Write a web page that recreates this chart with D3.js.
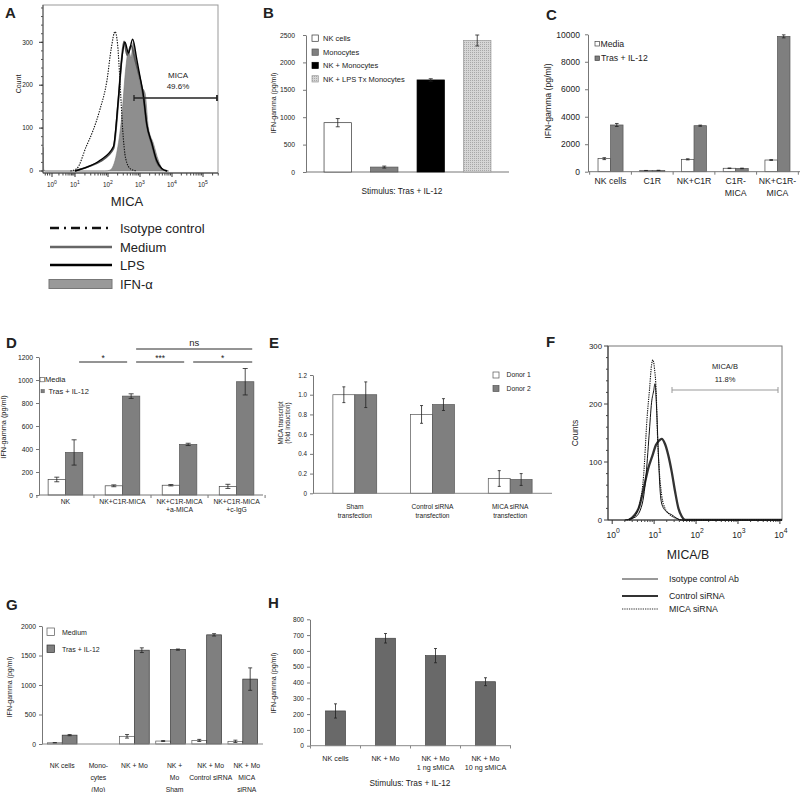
<!DOCTYPE html>
<html><head><meta charset="utf-8">
<script src="https://cdn.jsdelivr.net/npm/d3@7"></script>
<style>
body{margin:0;background:#fff}
svg{display:block}
text{font-family:Arial,"Liberation Sans",sans-serif;fill:#222}
</style>
</head><body>
<svg id="c" width="800" height="792"></svg>
<script>
// ================= DATA =================
// Panel A: flow histogram (log10 decade, count)
const aDecades = [0, 1, 2, 3, 4, 5];
const aYTicks = [0, 100, 200, 300];
const aIFN = [[-0.4,0],[-0.39,55],[-0.37,4],[-0.3,0],[1.9,0],[2.06,2],[2.27,41],[2.43,127],[2.56,243],[2.64,282],[2.72,265],[2.79,300],[2.9,250],[3.0,204],[3.16,181],[3.26,103],[3.42,64],[3.57,26],[3.73,2],[3.9,0]];
const aIsotype = [[0.8,0],[1.06,6],[1.34,57],[1.55,95],[1.75,142],[1.97,212],[2.1,285],[2.22,325],[2.3,295],[2.38,200],[2.46,95],[2.55,30],[2.7,5],[2.9,0]];
const aMedium = [[1.0,0],[1.4,10],[1.76,22],[2.17,52],[2.32,160],[2.42,255],[2.5,302],[2.6,270],[2.72,292],[2.86,255],[3.0,215],[3.1,175],[3.21,108],[3.37,62],[3.52,22],[3.68,5],[3.85,0]];
const aLPS = [[1.0,0],[1.4,10],[1.76,25],[2.17,57],[2.32,165],[2.43,260],[2.53,300],[2.64,275],[2.77,307],[2.9,260],[3.0,220],[3.1,180],[3.21,110],[3.37,65],[3.52,25],[3.68,6],[3.85,0]];
const aLegend = ["Isotype control", "Medium", "LPS", "IFN-\u03b1"];

// Panel B
const bCategories = ["NK cells", "Monocytes", "NK +  Monocytes", "NK + LPS Tx Monocytes"];
const bValues = [900, 90, 1680, 2400];
const bErrors = [75, 18, 22, 100];
const bYTicks = [0, 500, 1000, 1500, 2000, 2500];

// Panel C
const cCategories = [["NK cells"], ["C1R"], ["NK+C1R"], ["C1R-", "MICA"], ["NK+C1R-", "MICA"]];
const cSeries = ["Media", "Tras + IL-12"];
const cMedia = [950, 80, 900, 250, 850];
const cMediaErr = [70, 10, 40, 20, 30];
const cTras = [3400, 90, 3350, 240, 9850];
const cTrasErr = [110, 15, 40, 20, 110];
const cYTicks = [0, 2000, 4000, 6000, 8000, 10000];

// Panel D
const dCategories = [["NK"], ["NK+C1R-MICA"], ["NK+C1R-MICA", "+a-MICA"], ["NK+C1R-MICA", "+c-IgG"]];
const dSeries = ["Media", "Tras + IL-12"];
const dMedia = [135, 80, 85, 75];
const dMediaErr = [20, 8, 6, 18];
const dTras = [370, 860, 440, 985];
const dTrasErr = [110, 20, 10, 115];
const dYTicks = [0, 200, 400, 600, 800, 1000, 1200];
const dSig = [
  {from: 0, to: 1, label: "*", level: 0},
  {from: 1, to: 2, label: "***", level: 0},
  {from: 2, to: 3, label: "*", level: 0},
  {from: 1, to: 3, label: "ns", level: 1}
];

// Panel E
const eCategories = [["Sham", "transfection"], ["Control siRNA", "transfection"], ["MICA siRNA", "transfection"]];
const eSeries = ["Donor 1", "Donor 2"];
const eDonor1 = [1.0, 0.8, 0.15];
const eDonor1Err = [0.08, 0.09, 0.08];
const eDonor2 = [1.0, 0.9, 0.14];
const eDonor2Err = [0.13, 0.06, 0.06];
const eYTicks = [0, 0.2, 0.4, 0.6, 0.8, 1.0, 1.2];

// Panel F: flow histogram (log10 decade, count)
const fDecades = [0, 1, 2, 3, 4];
const fYTicks = [0, 100, 200, 300];
const fIsotype = [[0.3,0],[0.55,5],[0.71,26],[0.8,71],[0.88,146],[0.94,203],[0.99,223],[1.02,235],[1.06,191],[1.1,117],[1.14,54],[1.19,26],[1.3,14],[1.42,9],[1.54,3],[1.66,0],[4.05,0]];
const fControl = [[0.4,0],[0.63,20],[0.75,54],[0.86,89],[0.96,111],[1.04,129],[1.12,137],[1.18,140],[1.26,131],[1.34,111],[1.42,83],[1.5,49],[1.58,20],[1.66,6],[1.74,0],[4.05,0]];
const fMICA = [[0.35,0],[0.51,5],[0.67,32],[0.75,77],[0.83,174],[0.89,225],[0.94,268],[0.97,276],[1.01,260],[1.05,220],[1.08,146],[1.12,89],[1.18,43],[1.26,20],[1.38,9],[1.54,2],[1.7,0],[4.05,0]];
const fLegend = ["Isotype control Ab", "Control siRNA", "MICA siRNA"];

// Panel G
const gCategories = [["NK cells"], ["Mono-", "cytes", "(Mo)"], ["NK + Mo"], ["NK +", "Mo", "Sham"], ["NK + Mo", "Control siRNA"], ["NK + Mo", "MICA", "siRNA"]];
const gSeries = ["Medium", "Tras + IL-12"];
const gMedium = [20, 0, 130, 50, 60, 45];
const gMediumErr = [3, 0, 30, 8, 18, 20];
const gTras = [150, 0, 1590, 1600, 1850, 1100];
const gTrasErr = [10, 0, 40, 10, 20, 190];
const gYTicks = [0, 500, 1000, 1500, 2000];

// Panel H
const hCategories = [["NK cells"], ["NK + Mo"], ["NK + Mo", "1 ng sMICA"], ["NK + Mo", "10 ng sMICA"]];
const hValues = [220, 680, 570, 405];
const hErrors = [45, 30, 45, 25];
const hYTicks = [0, 100, 200, 300, 400, 500, 600, 700, 800];

// ================= DRAWING =================
const FONT = 'Arial, "Liberation Sans", sans-serif';
const svg = d3.select("#c");
const GRAY = "#7f7f7f";

const defs = svg.append("defs");
const pat = defs.append("pattern").attr("id", "dots").attr("width", 2).attr("height", 2).attr("patternUnits", "userSpaceOnUse");
pat.append("rect").attr("width", 2).attr("height", 2).attr("fill", "#d6d6d6");
pat.append("rect").attr("width", 1).attr("height", 1).attr("fill", "#a8a8a8");

function panelLabel(x, y, t) {
  svg.append("text").attr("x", x).attr("y", y).attr("font-size", 15).attr("font-weight", "bold").attr("fill", "#000").text(t);
}
function txt(x, y, t, size, anchor = "start", color = "#222") {
  return svg.append("text").attr("x", x).attr("y", y).attr("font-size", size).attr("text-anchor", anchor).attr("fill", color).text(t);
}
function vtxt(x, y, t, size) {
  return svg.append("text").attr("transform", `translate(${x},${y}) rotate(-90)`).attr("font-size", size).attr("text-anchor", "middle").attr("fill", "#222").text(t);
}
function yAxis(scale, x, ticks, fmt, size, offset, color = "#777") {
  const g = svg.append("g").attr("transform", `translate(${x},0)`)
    .call(d3.axisLeft(scale).tickValues(ticks).tickSize(3).tickSizeOuter(0).tickPadding(offset - 3).tickFormat(fmt));
  g.select(".domain").attr("stroke", color);
  g.selectAll(".tick line").attr("stroke", color);
  g.selectAll("text").attr("font-size", size).attr("font-family", FONT).attr("fill", "#333");
  return g;
}
function catAxis(band, y, x0, x1, labels, size, lh, firstDy) {
  svg.append("line").attr("x1", x0).attr("x2", x1).attr("y1", y).attr("y2", y).attr("stroke", "#777");
  const step = band.step();
  const centers = band.domain().map(i => band(i) + band.bandwidth() / 2);
  const bounds = centers.map(c => c - step / 2).concat([centers[centers.length - 1] + step / 2]);
  svg.append("g").selectAll("line").data(bounds).join("line")
    .attr("x1", d => d).attr("x2", d => d).attr("y1", y).attr("y2", y + 3).attr("stroke", "#777");
  const g = svg.append("g").selectAll("text").data(labels).join("text")
    .attr("x", (d, i) => centers[i]).attr("y", y + firstDy)
    .attr("font-size", size).attr("text-anchor", "middle").attr("fill", "#222");
  g.each(function(d, i) {
    d3.select(this).selectAll("tspan").data(d).join("tspan")
      .attr("x", centers[i]).attr("dy", (t, j) => j === 0 ? 0 : lh).text(t => t);
  });
}
function bars(band, inner, si, values, errors, yS, fill, stroke, cap) {
  const g = svg.append("g");
  const data = values.map((v, i) => ({v, e: errors ? errors[i] : 0, i})).filter(d => d.v > 0);
  g.selectAll("rect").data(data).join("rect")
    .attr("x", d => band(d.i) + (inner ? inner(si) : 0))
    .attr("y", d => yS(d.v))
    .attr("width", inner ? inner.bandwidth() : band.bandwidth())
    .attr("height", d => yS(0) - yS(d.v))
    .attr("fill", fill).attr("stroke", stroke).attr("stroke-width", 0.7);
  const w = inner ? inner.bandwidth() : band.bandwidth();
  const eb = g.selectAll("g.err").data(data.filter(d => d.e > 0)).join("g").attr("class", "err");
  const cx = d => band(d.i) + (inner ? inner(si) : 0) + w / 2;
  eb.append("line").attr("x1", cx).attr("x2", cx).attr("y1", d => yS(d.v - d.e)).attr("y2", d => yS(d.v + d.e)).attr("stroke", "#222").attr("stroke-width", 0.8);
  eb.append("line").attr("x1", d => cx(d) - cap).attr("x2", d => cx(d) + cap).attr("y1", d => yS(d.v + d.e)).attr("y2", d => yS(d.v + d.e)).attr("stroke", "#222").attr("stroke-width", 0.8);
  eb.append("line").attr("x1", d => cx(d) - cap).attr("x2", d => cx(d) + cap).attr("y1", d => yS(d.v - d.e)).attr("y2", d => yS(d.v - d.e)).attr("stroke", "#222").attr("stroke-width", 0.8);
}
function sup(x, y, base, exp, size) {
  const t = svg.append("text").attr("x", x).attr("y", y).attr("font-size", size).attr("text-anchor", "middle").attr("fill", "#333");
  t.append("tspan").text(base);
  t.append("tspan").attr("dy", -size * 0.55).attr("font-size", size * 0.8).text(exp);
}

// ---------- Panel A ----------
panelLabel(5, 18, "A");
const xA = d3.scaleLinear().domain([-0.4, 0, 1, 2, 3, 4, 5, 5.47]).range([43, 52, 75, 108, 140, 172, 203, 218]);
const yA = d3.scaleLinear().domain([0, 300]).range([171, 42.3]);
defs.append("clipPath").attr("id", "clipA").append("rect").attr("x", 43).attr("y", 5).attr("width", 175).attr("height", 168);
svg.append("rect").attr("x", 43).attr("y", 5).attr("width", 175).attr("height", 168).attr("fill", "none").attr("stroke", "#999");
const gA = svg.append("g").attr("clip-path", "url(#clipA)");
gA.append("path").datum(aIFN).attr("d", d3.area().x(d => xA(d[0])).y0(yA(0)).y1(d => yA(d[1])).curve(d3.curveMonotoneX)).attr("fill", "#8e8e8e").attr("stroke", "#777").attr("stroke-width", 0.6);
const lineA = d3.line().x(d => xA(d[0])).y(d => yA(d[1])).curve(d3.curveMonotoneX);
gA.append("path").datum(aIsotype).attr("d", lineA).attr("fill", "none").attr("stroke", "#111").attr("stroke-width", 1.1).attr("stroke-dasharray", "1.4,1.2");
gA.append("path").datum(aMedium).attr("d", lineA).attr("fill", "none").attr("stroke", "#555").attr("stroke-width", 1.8);
gA.append("path").datum(aLPS).attr("d", lineA).attr("fill", "none").attr("stroke", "#000").attr("stroke-width", 1.4);
// A y axis
const yAxA = svg.append("g");
yAxA.append("line").attr("x1", 43).attr("x2", 43).attr("y1", 5).attr("y2", 173).attr("stroke", "#555");
yAxA.selectAll("line.mn").data(d3.range(0, 381, 20)).join("line").attr("class", "mn")
  .attr("x1", 41).attr("x2", 43).attr("y1", d => yA(d)).attr("y2", d => yA(d)).attr("stroke", "#555");
yAxA.selectAll("line.mj").data(aYTicks).join("line").attr("class", "mj")
  .attr("x1", 39).attr("x2", 43).attr("y1", d => yA(d)).attr("y2", d => yA(d)).attr("stroke", "#333");
yAxA.selectAll("text").data(aYTicks).join("text").attr("x", 33).attr("y", d => yA(d) + 2.2).attr("text-anchor", "end").attr("font-size", 6.5).attr("fill", "#333").text(d => d);
// A x axis
svg.append("line").attr("x1", 43).attr("x2", 218).attr("y1", 173).attr("y2", 173).attr("stroke", "#333");
const aMinor = [];
aDecades.slice(0, 5).forEach(d => d3.range(2, 10).forEach(k => aMinor.push(d + Math.log10(k))));
[-0.1, -0.2, -0.3].forEach(v => aMinor.push(v));
d3.range(2, 4).forEach(k => aMinor.push(5 + Math.log10(k)));
svg.append("g").selectAll("line").data(aMinor).join("line").attr("x1", d => xA(d)).attr("x2", d => xA(d)).attr("y1", 173).attr("y2", 175.5).attr("stroke", "#444");
svg.append("g").selectAll("line").data(aDecades).join("line").attr("x1", d => xA(d)).attr("x2", d => xA(d)).attr("y1", 173).attr("y2", 177).attr("stroke", "#333");
aDecades.forEach(d => sup(xA(d), 187, "10", String(d), 6.3));
txt(127, 206, "MICA", 13, "middle", "#111");
vtxt(21, 84, "Count", 7);
// gate
svg.append("line").attr("x1", 134).attr("x2", 217).attr("y1", 98).attr("y2", 98).attr("stroke", "#222").attr("stroke-width", 1.3);
svg.append("line").attr("x1", 134).attr("x2", 134).attr("y1", 95).attr("y2", 101).attr("stroke", "#222").attr("stroke-width", 1.3);
svg.append("line").attr("x1", 217).attr("x2", 217).attr("y1", 95).attr("y2", 101).attr("stroke", "#222").attr("stroke-width", 1.8);
txt(178, 78, "MICA", 8, "middle", "#333");
txt(178, 89, "49.6%", 8, "middle", "#333");
// A legend
const aLegY = [228, 247, 265, 284];
svg.append("line").attr("x1", 50).attr("x2", 108).attr("y1", aLegY[0]).attr("y2", aLegY[0]).attr("stroke", "#111").attr("stroke-width", 2.5).attr("stroke-dasharray", "9,5,2,5");
svg.append("line").attr("x1", 50).attr("x2", 112).attr("y1", aLegY[1]).attr("y2", aLegY[1]).attr("stroke", "#666").attr("stroke-width", 2.5);
svg.append("line").attr("x1", 50).attr("x2", 112).attr("y1", aLegY[2]).attr("y2", aLegY[2]).attr("stroke", "#000").attr("stroke-width", 2.5);
svg.append("rect").attr("x", 49).attr("y", aLegY[3] - 4.5).attr("width", 63).attr("height", 9).attr("fill", "#999").attr("stroke", "#777");
aLegend.forEach((t, i) => txt(120, aLegY[i] + 4.5, t, 13, "start", "#111"));

// ---------- Panel B ----------
panelLabel(263, 18, "B");
const yB = d3.scaleLinear().domain([0, 2500]).range([172, 35]);
const xB = d3.scaleBand().domain(d3.range(bCategories.length)).range([306, 509]).paddingInner(0.41).paddingOuter(0.388);
yAxis(yB, 306, bYTicks, d => d, 6.8, 11);
svg.append("line").attr("x1", 306).attr("x2", 509).attr("y1", 172).attr("y2", 172).attr("stroke", "#777");
const bFills = ["#fff", "#808080", "#000", "url(#dots)"];
const bStrokes = ["#333", "#555", "#000", "#999"];
bCategories.forEach((c, i) => {
  const v = [0, 0, 0, 0]; v[i] = bValues[i];
  const e = [0, 0, 0, 0]; e[i] = bErrors[i];
  bars(xB, null, 0, v, e, yB, bFills[i], bStrokes[i], 2);
});
const bLegY = [35, 49, 62.3, 75.7];
bCategories.forEach((c, i) => {
  svg.append("rect").attr("x", 312).attr("y", bLegY[i]).attr("width", 6.3).attr("height", 6.3).attr("fill", bFills[i]).attr("stroke", bStrokes[i]).attr("stroke-width", 0.7);
  txt(323, bLegY[i] + 5.8, c, 7.5, "start", "#333");
});
vtxt(276, 103, "IFN-gamma (pg/ml)", 7);
txt(402, 194, "Stimulus:  Tras + IL-12", 8.3, "middle", "#333");

// ---------- Panel C ----------
panelLabel(546, 20, "C");
const yC = d3.scaleLinear().domain([0, 10000]).range([171.7, 34.3]);
const xC = d3.scaleBand().domain(d3.range(cCategories.length)).range([588, 800]).paddingInner(0.4).paddingOuter(0.24);
const xC1 = d3.scaleBand().domain([0, 1]).range([0, xC.bandwidth()]);
yAxis(yC, 588, cYTicks, d => d, 8.5, 8);
bars(xC, xC1, 0, cMedia, cMediaErr, yC, "#fff", "#444", 1.8);
bars(xC, xC1, 1, cTras, cTrasErr, yC, GRAY, "#555", 1.8);
catAxis(xC, 171.7, 588, 800, cCategories, 8.7, 12, 12);
svg.append("rect").attr("x", 595).attr("y", 41.5).attr("width", 4.5).attr("height", 4.5).attr("fill", "#fff").attr("stroke", "#444").attr("stroke-width", 0.7);
svg.append("rect").attr("x", 595).attr("y", 56).attr("width", 4.5).attr("height", 4.5).attr("fill", GRAY).attr("stroke", "#444").attr("stroke-width", 0.7);
txt(600.5, 46.5, cSeries[0], 8.7, "start", "#333");
txt(601, 61, cSeries[1], 8.7, "start", "#333");
vtxt(551, 101, "IFN-gamma (pg/ml)", 8.7);

// ---------- Panel D ----------
panelLabel(6, 348, "D");
const yD = d3.scaleLinear().domain([0, 1200]).range([495, 357]);
const xD = d3.scaleBand().domain(d3.range(dCategories.length)).range([39, 263]).paddingInner(0.393).paddingOuter(0.16);
const xD1 = d3.scaleBand().domain([0, 1]).range([0, xD.bandwidth()]);
yAxis(yD, 39, dYTicks, d => d, 6.8, 6);
bars(xD, xD1, 0, dMedia, dMediaErr, yD, "#fff", "#444", 2.5);
bars(xD, xD1, 1, dTras, dTrasErr, yD, GRAY, "#555", 2.5);
catAxis(xD, 495, 39, 263, dCategories, 6.8, 8, 9);
svg.append("rect").attr("x", 40).attr("y", 377.5).attr("width", 4.3).attr("height", 4.3).attr("fill", "#fff").attr("stroke", "#444").attr("stroke-width", 0.6);
svg.append("rect").attr("x", 41).attr("y", 389.5).attr("width", 3.3).attr("height", 3.3).attr("fill", GRAY).attr("stroke", "#555").attr("stroke-width", 0.5);
txt(45, 382.3, dSeries[0], 7.5, "start", "#333");
txt(48.5, 394, dSeries[1], 7.5, "start", "#333");
vtxt(6, 427, "IFN-gamma (pg/ml)", 7.3);
const grayC = i => xD(i) + xD1(1) + xD1.bandwidth() / 2;
dSig.forEach(s => {
  const y = s.level === 0 ? 362 : 349;
  const x1 = grayC(s.from) + 5, x2 = grayC(s.to) + (s.to === 3 ? 7 : -4);
  svg.append("line").attr("x1", x1).attr("x2", x2).attr("y1", y).attr("y2", y).attr("stroke", "#111").attr("stroke-width", 0.9);
  if (s.label === "ns") txt((x1 + x2) / 2, y - 3, s.label, 9.5, "middle", "#222");
  else txt((x1 + x2) / 2, y - 1.5, s.label, 8.5, "middle", "#222");
});

// ---------- Panel E ----------
panelLabel(269, 348, "E");
const yE = d3.scaleLinear().domain([0, 1.2]).range([493.3, 375]);
const xE = d3.scaleBand().domain(d3.range(eCategories.length)).range([313, 552]).paddingInner(0.436).paddingOuter(0.256);
const xE1 = d3.scaleBand().domain([0, 1]).range([0, xE.bandwidth()]);
yAxis(yE, 313, eYTicks, d => d === 0 ? "0" : d.toFixed(1), 6.3, 6);
bars(xE, xE1, 0, eDonor1, eDonor1Err, yE, "#fff", "#555", 1.5);
bars(xE, xE1, 1, eDonor2, eDonor2Err, yE, GRAY, "#555", 1.5);
svg.append("line").attr("x1", 313).attr("x2", 552).attr("y1", 493.3).attr("y2", 493.3).attr("stroke", "#888");
svg.append("g").selectAll("text").data(eCategories).join("text")
  .attr("font-size", 6.6).attr("text-anchor", "middle").attr("fill", "#333")
  .each(function(d, i) {
    const cx = xE(i) + xE.bandwidth() / 2;
    d3.select(this).selectAll("tspan").data(d).join("tspan").attr("x", cx).attr("y", (t, j) => 509 + j * 8.5).text(t => t);
  });
svg.append("rect").attr("x", 493).attr("y", 372).attr("width", 6).attr("height", 6).attr("fill", "#fff").attr("stroke", "#555").attr("stroke-width", 0.7);
svg.append("rect").attr("x", 493).attr("y", 385.5).attr("width", 6).attr("height", 6).attr("fill", GRAY).attr("stroke", "#555").attr("stroke-width", 0.7);
txt(506.5, 377, eSeries[0], 6.8, "start", "#333");
txt(506.5, 390.5, eSeries[1], 6.8, "start", "#333");
vtxt(283, 423, "MICA transcript", 6.3);
vtxt(290, 423, "(fold induction)", 6.3);

// ---------- Panel F ----------
panelLabel(546, 347, "F");
const xF = d3.scaleLinear().domain([-0.1, 4.05]).range([608, 782]);
const yF = d3.scaleLinear().domain([0, 300]).range([520, 346]);
svg.append("rect").attr("x", 608).attr("y", 346).attr("width", 174).attr("height", 174).attr("fill", "none").attr("stroke", "#777");
svg.append("line").attr("x1", 608).attr("x2", 608).attr("y1", 346).attr("y2", 520).attr("stroke", "#333");
svg.append("line").attr("x1", 608).attr("x2", 782).attr("y1", 520).attr("y2", 520).attr("stroke", "#333");
svg.append("g").selectAll("line").data(d3.range(0, 301, 20)).join("line")
  .attr("x1", d => fYTicks.includes(d) ? 604 : 606).attr("x2", 608).attr("y1", d => yF(d)).attr("y2", d => yF(d)).attr("stroke", "#444");
svg.append("g").selectAll("text").data(fYTicks).join("text").attr("x", 602).attr("y", d => yF(d) + 2.5)
  .attr("text-anchor", "end").attr("font-size", 7.8).attr("fill", "#333").text(d => d);
const fMinor = [];
fDecades.slice(0, 4).forEach(d => d3.range(2, 10).forEach(k => fMinor.push(d + Math.log10(k))));
svg.append("g").selectAll("line").data(fMinor).join("line").attr("x1", d => xF(d)).attr("x2", d => xF(d)).attr("y1", 520).attr("y2", 522).attr("stroke", "#444");
svg.append("g").selectAll("line").data(fDecades).join("line").attr("x1", d => xF(d)).attr("x2", d => xF(d)).attr("y1", 520).attr("y2", 524).attr("stroke", "#333");
fDecades.forEach(d => sup(xF(d) + 1, 538, "10", String(d), 8.5));
txt(688, 559, "MICA/B", 12.3, "middle", "#111");
vtxt(578, 433, "Counts", 8.4);
defs.append("clipPath").attr("id", "clipF").append("rect").attr("x", 608).attr("y", 346).attr("width", 174).attr("height", 175);
const gF = svg.append("g").attr("clip-path", "url(#clipF)");
const lineF = d3.line().x(d => xF(d[0])).y(d => yF(d[1])).curve(d3.curveMonotoneX);
gF.append("path").datum(fControl).attr("d", lineF).attr("fill", "none").attr("stroke", "#333").attr("stroke-width", 2.3);
gF.append("path").datum(fIsotype).attr("d", lineF).attr("fill", "none").attr("stroke", "#111").attr("stroke-width", 1);
gF.append("path").datum(fMICA).attr("d", lineF).attr("fill", "none").attr("stroke", "#111").attr("stroke-width", 1.1).attr("stroke-dasharray", "1.3,1");
svg.append("line").attr("x1", 672).attr("x2", 778).attr("y1", 390).attr("y2", 390).attr("stroke", "#999").attr("stroke-width", 1);
svg.append("line").attr("x1", 672).attr("x2", 672).attr("y1", 387).attr("y2", 393).attr("stroke", "#999");
svg.append("line").attr("x1", 778).attr("x2", 778).attr("y1", 387).attr("y2", 393).attr("stroke", "#999");
txt(725, 369, "MICA/B", 7.5, "middle", "#333");
txt(725, 382, "11.8%", 7.5, "middle", "#333");
const fLegY = [579, 596, 609];
svg.append("line").attr("x1", 622).attr("x2", 658).attr("y1", fLegY[0]).attr("y2", fLegY[0]).attr("stroke", "#333").attr("stroke-width", 1);
svg.append("line").attr("x1", 622).attr("x2", 658).attr("y1", fLegY[1]).attr("y2", fLegY[1]).attr("stroke", "#333").attr("stroke-width", 2.2);
svg.append("line").attr("x1", 622).attr("x2", 658).attr("y1", fLegY[2]).attr("y2", fLegY[2]).attr("stroke", "#333").attr("stroke-width", 1.1).attr("stroke-dasharray", "1.3,1");
fLegend.forEach((t, i) => txt(669, fLegY[i] + 3, t, 8.8, "start", "#333"));

// ---------- Panel G ----------
panelLabel(6, 610, "G");
const yG = d3.scaleLinear().domain([0, 2000]).range([744, 626]);
const xG = d3.scaleBand().domain(d3.range(gCategories.length)).range([42, 263]).paddingInner(0.18).paddingOuter(0.15);
const xG1 = d3.scaleBand().domain([0, 1]).range([0, xG.bandwidth()]);
yAxis(yG, 42, gYTicks, d => d, 6.8, 6);
bars(xG, xG1, 0, gMedium, gMediumErr, yG, "#fff", "#555", 2);
bars(xG, xG1, 1, gTras, gTrasErr, yG, GRAY, "#333", 2);
svg.append("line").attr("x1", 42).attr("x2", 263).attr("y1", 744).attr("y2", 744).attr("stroke", "#888");
svg.append("g").selectAll("text").data(gCategories).join("text")
  .attr("font-size", 6.8).attr("text-anchor", "middle").attr("fill", "#333")
  .each(function(d, i) {
    const cx = xG(i) + xG.bandwidth() / 2 + (i >= 3 ? 4 : 0);
    d3.select(this).selectAll("tspan").data(d).join("tspan").attr("x", cx).attr("y", (t, j) => 767.5 + j * 12).text(t => t);
  });
svg.append("rect").attr("x", 47).attr("y", 628).attr("width", 7.5).attr("height", 7.5).attr("fill", "#fff").attr("stroke", "#555").attr("stroke-width", 0.7);
svg.append("rect").attr("x", 47).attr("y", 645).attr("width", 7.5).attr("height", 7.5).attr("fill", GRAY).attr("stroke", "#333").attr("stroke-width", 0.7);
txt(62, 634.5, gSeries[0], 7, "start", "#333");
txt(62, 651.5, gSeries[1], 7, "start", "#333");
vtxt(12, 687, "IFN-gamma (pg/ml)", 7);

// ---------- Panel H ----------
panelLabel(268, 608, "H");
const yH = d3.scaleLinear().domain([0, 800]).range([745.7, 619.3]);
const xH = d3.scaleBand().domain(d3.range(hCategories.length)).range([310, 511]).paddingInner(0.6).paddingOuter(0.31);
yAxis(yH, 310, hYTicks, d => d, 6.6, 6);
bars(xH, null, 0, hValues, hErrors, yH, "#696969", "#444", 1.5);
svg.append("line").attr("x1", 310).attr("x2", 511).attr("y1", 745.7).attr("y2", 745.7).attr("stroke", "#888");
const hStep = xH.step();
svg.append("g").selectAll("line").data(d3.range(hCategories.length + 1)).join("line")
  .attr("x1", i => xH(0) + xH.bandwidth() / 2 - hStep / 2 + i * hStep).attr("x2", i => xH(0) + xH.bandwidth() / 2 - hStep / 2 + i * hStep)
  .attr("y1", 745.7).attr("y2", 748.5).attr("stroke", "#888");
svg.append("g").selectAll("text").data(hCategories).join("text")
  .attr("font-size", 7.2).attr("text-anchor", "middle").attr("fill", "#333")
  .each(function(d, i) {
    const cx = xH(i) + xH.bandwidth() / 2;
    d3.select(this).selectAll("tspan").data(d).join("tspan").attr("x", cx).attr("y", (t, j) => 760.5 + j * 9).text(t => t);
  });
txt(410, 786, "Stimulus:  Tras + IL-12", 8.3, "middle", "#333");
vtxt(276, 683, "IFN-gamma (pg/ml)", 7);
</script>
</body></html>
